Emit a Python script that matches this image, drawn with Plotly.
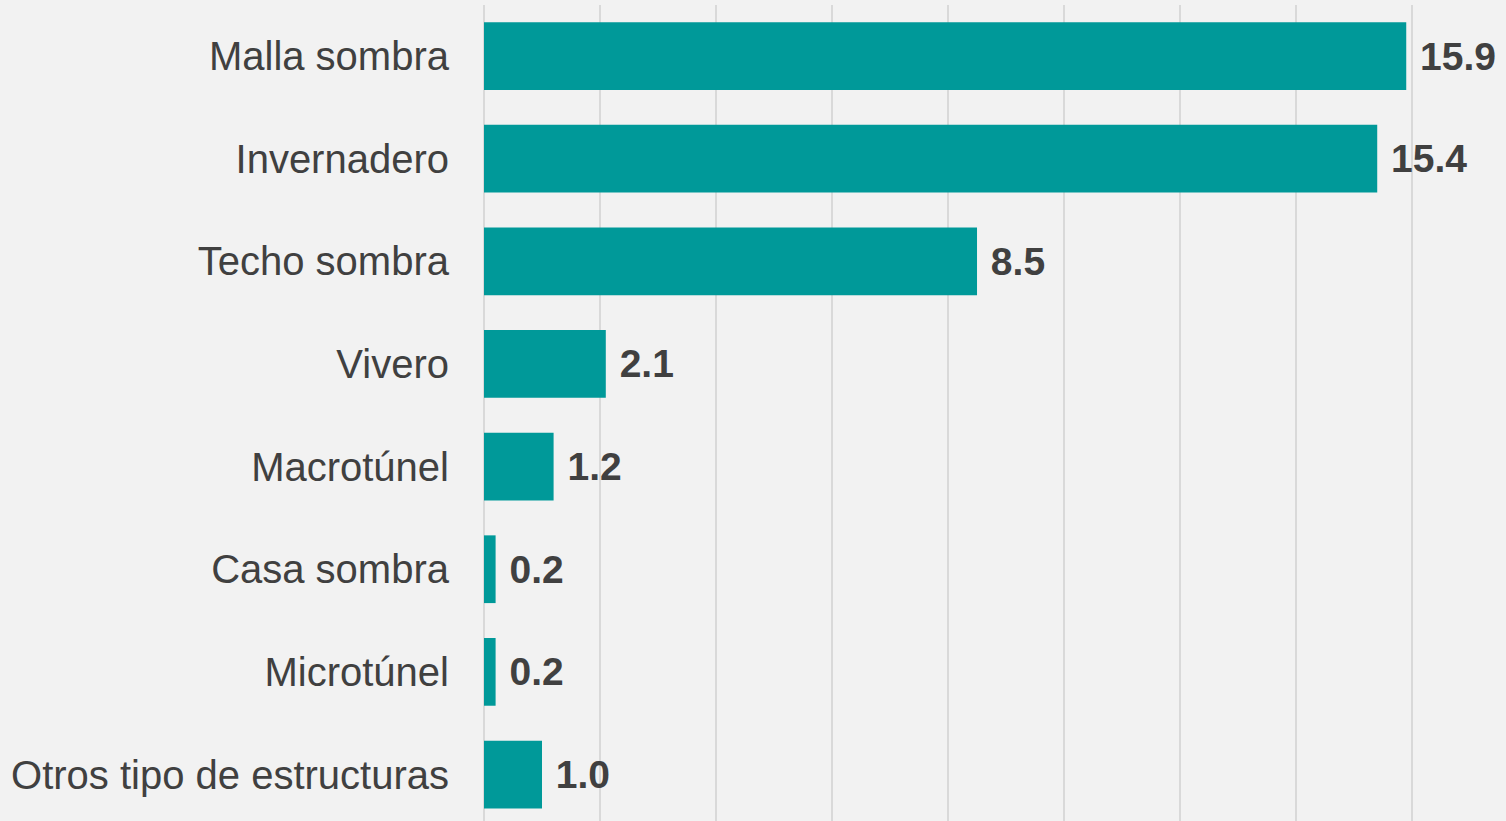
import plotly.graph_objects as go

categories = ["Malla sombra", "Invernadero", "Techo sombra", "Vivero",
              "Macrotúnel", "Casa sombra", "Microtúnel", "Otros tipo de estructuras"]
values = [15.9, 15.4, 8.5, 2.1, 1.2, 0.2, 0.2, 1.0]
labels = [f" {v:.1f}" for v in values]

fig = go.Figure(go.Bar(
    x=values, y=categories, orientation="h",
    marker=dict(color="#009999", line=dict(width=0)),
    width=0.66,
    text=labels, textposition="outside",
    textfont=dict(family="Liberation Sans, Arial", size=39, color="#404040", weight="bold"),
    cliponaxis=False,
))

fig.update_layout(
    width=1506, height=821,
    paper_bgcolor="#f2f2f2", plot_bgcolor="#f2f2f2",
    margin=dict(l=484, r=0, t=5, b=0),
    showlegend=False,
    bargap=0.34,
    font=dict(family="Liberation Sans, Arial", color="#404040"),
    xaxis=dict(range=[0, 17.62], dtick=2, showgrid=True, gridcolor="#d9d9d9", gridwidth=2,
               zeroline=True, zerolinecolor="#d9d9d9", zerolinewidth=2,
               showticklabels=False, showline=False, fixedrange=True),
    yaxis=dict(categoryorder="array", categoryarray=categories,
               range=[7.453, -0.497], showgrid=False, zeroline=False, showline=False,
               tickfont=dict(family="Liberation Sans, Arial", size=40, color="#404040"),
               ticks="", ticklabelstandoff=34, fixedrange=True),
)

fig.write_html("out.html", config={"displayModeBar": False},
               post_script="document.body.style.margin='0';document.body.style.overflow='hidden';")
